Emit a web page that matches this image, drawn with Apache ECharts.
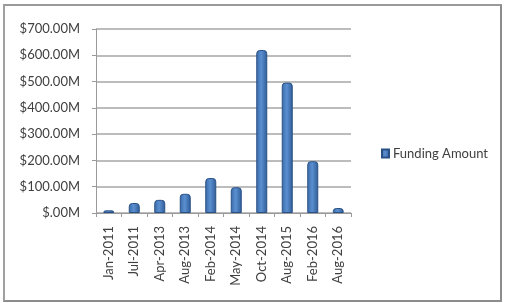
<!DOCTYPE html>
<html><head><meta charset="utf-8">
<script src="https://cdn.jsdelivr.net/npm/echarts@6/dist/echarts.min.js"></script>
<style>
html,body{margin:0;padding:0;background:#fff;}
#frame{position:absolute;left:3px;top:4px;width:495px;height:294px;border:2px solid #8c8c8c;border-top-color:#9a9a9a;border-left-color:#a0a0a0;}
#c{position:absolute;left:0;top:0;width:505px;height:303px;}
</style></head>
<body>
<div id="frame"></div>
<div id="c"></div>
<script>
const categories = ['Jan-2011','Jul-2011','Apr-2013','Aug-2013','Feb-2014','May-2014','Oct-2014','Aug-2015','Feb-2016','Aug-2016'];
const fundingAmount = [10, 38, 50, 73, 133, 98, 620, 496, 197, 19];
const yTicks = [0, 100, 200, 300, 400, 500, 600, 700];
const seriesName = 'Funding Amount';

const chart = echarts.init(document.getElementById('c'), null, {renderer:'canvas'});
const font = 'Lato';
chart.setOption({
  animation: false,
  textStyle: {fontFamily: font},
  legend: {
    data: [seriesName], orient: 'vertical', left: 381, top: 147, padding: 0,
    itemWidth: 7, itemHeight: 8, itemGap: 4,
    textStyle: {color: '#404040', fontSize: 13, fontFamily: font, padding: [0,0,0,-1]},
    icon: 'rect'
  },
  grid: {left: 96, right: 154, top: 29, bottom: 90, containLabel: false},
  xAxis: {
    type: 'category', data: categories,
    axisLine: {show: true, lineStyle: {color: '#9a9a9a', width: 1}},
    axisTick: {show: true, alignWithLabel: false, length: 4, lineStyle: {color: '#9a9a9a'}},
    axisLabel: {rotate: 90, color: '#404040', fontSize: 13, margin: 13, fontFamily: font, interval: 0}
  },
  yAxis: {
    type: 'value', min: yTicks[0], max: yTicks[yTicks.length-1], interval: 100,
    axisLine: {show: true, lineStyle: {color: '#9a9a9a'}},
    axisTick: {show: true, length: 4, lineStyle: {color: '#9a9a9a'}},
    splitLine: {show: true, lineStyle: {color: '#a6a6a6', width: 1.5}},
    axisLabel: {color: '#404040', fontSize: 13, margin: 16, fontFamily: font,
      formatter: v => '$' + (v === 0 ? '' : v) + '.00M'}
  },
  series: [{
    name: seriesName, type: 'bar', data: fundingAmount, barWidth: 11,
    itemStyle: {color: new echarts.graphic.LinearGradient(0,0,1,0,[
      {offset:0,color:'#3a6aa8'},{offset:0.45,color:'#5a8fd0'},{offset:1,color:'#2f5c96'}]),
      borderColor: '#2a5185', borderWidth: 1, borderRadius: [3,3,0,0]}
  }]
});
</script>
</body></html>
